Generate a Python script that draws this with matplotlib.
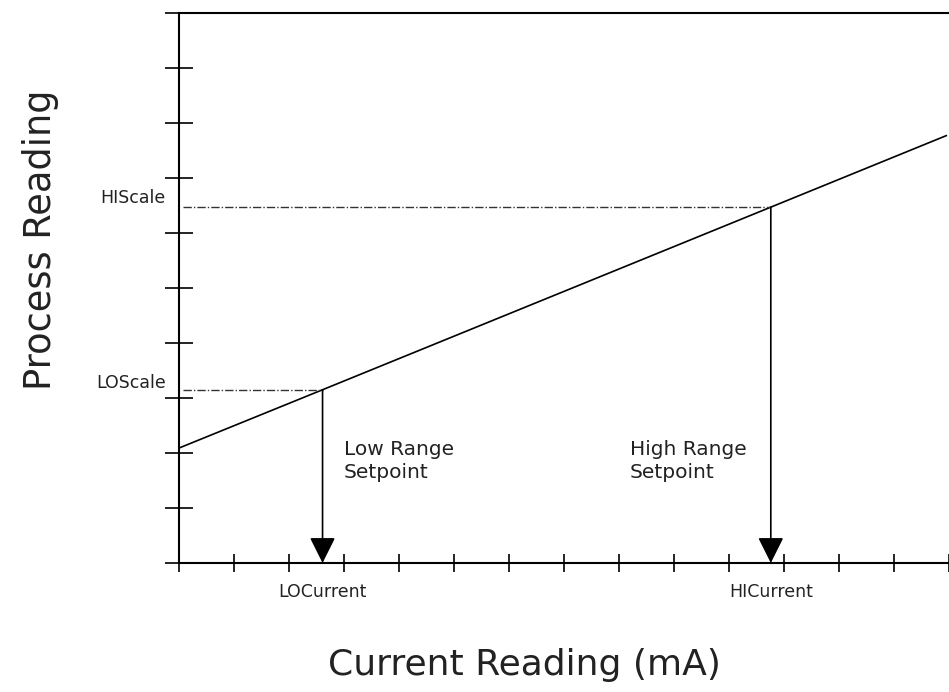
import matplotlib
matplotlib.use('Agg')
import matplotlib.pyplot as plt

plt.rcParams['font.family'] = ['DejaVu Sans']

# tick positions (no numbers shown on the original)
x_ticks = list(range(0, 15))
y_ticks = list(range(0, 11))

# the scaling line
line_x = [0, 2.61, 10.76, 13.95]
line_y = [2.09, 3.15, 6.47, 7.77]

# setpoints
lo_current, lo_scale = 2.61, 3.15
hi_current, hi_scale = 10.76, 6.47

fig = plt.figure(figsize=(9.49, 6.92), dpi=100)
ax = fig.add_axes([179/949, 1-563/692, 1-179/949, 550/692])

ax.plot(line_x, line_y, color='black', lw=1.2)

# dashed guide lines from the y axis
for sy, sx in [(lo_scale, lo_current), (hi_scale, hi_current)]:
    ax.plot([0.08, sx], [sy, sy], color='#333333', lw=1, ls=(0, (6, 1.5, 1, 1.5)))
    ax.annotate('', xy=(sx, 0), xytext=(sx, sy),
                arrowprops=dict(arrowstyle='-|>,head_length=0.8,head_width=0.4',
                                mutation_scale=20, color='black', lw=1.2,
                                shrinkA=0, shrinkB=0))

ax.set_xlim(0, 13.95)
ax.set_ylim(0, 10)
ax.set_xticks(x_ticks)
ax.set_yticks(y_ticks)
ax.set_xticklabels([])
ax.set_yticklabels([])
ax.tick_params(axis='x', direction='inout', length=13, width=1.2, color='black')
ax.tick_params(axis='y', direction='inout', length=20, width=1.2, color='black')
ax.spines['right'].set_visible(False)
for s in ['left', 'top', 'bottom']:
    ax.spines[s].set_linewidth(1.5)

small = dict(fontsize=12.5, color='#222222', clip_on=False)
ax.text(-0.24, hi_scale + 0.16, 'HIScale', ha='right', va='center', **small)
ax.text(-0.24, lo_scale + 0.13, 'LOScale', ha='right', va='center', **small)
ax.text(lo_current, -0.52, 'LOCurrent', ha='center', va='center', **small)
ax.text(hi_current, -0.52, 'HICurrent', ha='center', va='center', **small)

mid = dict(fontsize=14.5, color='#222222', linespacing=1.3)
ax.text(3.0, 2.24, 'Low Range\nSetpoint', ha='left', va='top', **mid)
ax.text(8.2, 2.24, 'High Range\nSetpoint', ha='left', va='top', **mid)

ax.text(0.449, -0.185, 'Current Reading (mA)', transform=ax.transAxes,
        ha='center', va='center', fontsize=26, color='#222222')
ax.text(-0.18, 0.587, 'Process Reading', transform=ax.transAxes, rotation=90,
        ha='center', va='center', fontsize=26.5, color='#222222')

fig.savefig('out.png', dpi=100)
